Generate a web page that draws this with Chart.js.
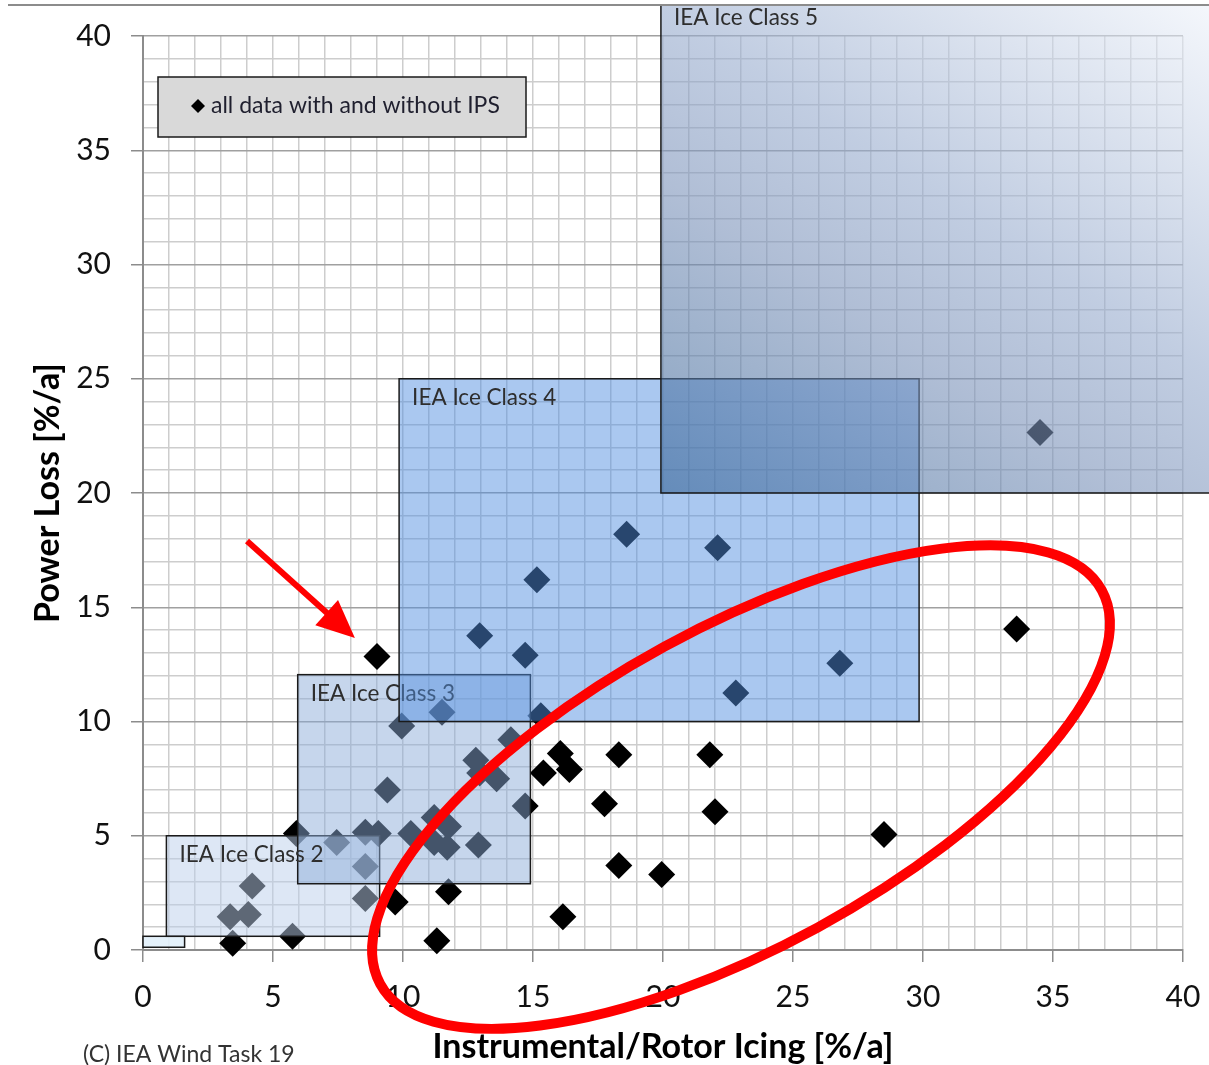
<!DOCTYPE html>
<html>
<head>
<meta charset="utf-8">
<script src="https://cdn.jsdelivr.net/npm/chart.js@4.4.1/dist/chart.umd.min.js"></script>
<style>
  html, body { margin: 0; padding: 0; background: #ffffff; }
  #wrap { width: 1209px; height: 1065px; position: relative; }
</style>
</head>
<body>
<div id="wrap"><canvas id="chart" width="1209" height="1065"></canvas></div>
<script>
// Measured sites: instrumental/rotor icing [%/a] vs. production loss [%/a]
const icingX = [
  3.45, 3.35, 4.05, 4.2, 5.75, 5.9, 7.45, 8.55, 9.05, 8.55,
  8.55, 9.7, 9.0, 9.95, 9.4, 10.3, 11.2, 11.75, 11.2, 11.7,
  12.9, 11.75, 11.3, 11.5, 12.8, 12.95, 13.6, 14.15, 14.7, 15.3,
  14.7, 12.95, 15.15, 15.4, 16.05, 16.4, 16.15, 17.75, 18.3, 18.3,
  19.95, 18.6, 22.1, 21.8, 22.0, 22.8, 26.8, 28.5, 33.6, 34.5
];
const powerLossY = [
  0.3, 1.45, 1.55, 2.8, 0.6, 5.1, 4.7, 5.15, 5.1, 3.65,
  2.25, 2.1, 12.85, 9.8, 7.0, 5.1, 5.8, 5.4, 4.7, 4.5,
  4.6, 2.55, 0.4, 10.4, 8.3, 7.75, 7.5, 9.2, 6.3, 10.25,
  12.9, 13.75, 16.2, 7.75, 8.6, 7.9, 1.45, 6.4, 8.55, 3.7,
  3.3, 18.2, 17.6, 8.55, 6.05, 11.25, 12.55, 5.05, 14.05, 22.65
];

// IEA ice classes (class 1 is the small unlabelled box at the origin)
const classNames = ['', 'IEA Ice Class 2', 'IEA Ice Class 3', 'IEA Ice Class 4', 'IEA Ice Class 5'];
const classX0 = [0, 0.9, 5.95, 9.85, 19.92];
const classX1 = [1.6, 9.1, 14.9, 29.85, 42];
const classY0 = [0.12, 0.6, 2.9, 10, 20];
const classY1 = [0.6, 5, 12.05, 25, 41.35];

// Labelled tick values on both axes
const tickLabels = [0, 5, 10, 15, 20, 25, 30, 35, 40];

const legendText = 'all data with and without IPS';
const copyrightText = '(C) IEA Wind Task 19';

const FONT = 'Lato, "Open Sans", "DejaVu Sans", sans-serif';

const classFills = [
  'rgba(225,240,250,0.9)',
  'rgba(188,208,235,0.5)',
  'rgba(139,171,216,0.49)',
  'rgba(82,143,224,0.49)',
  null
];
// box index after which each class label is written (stacking of the shapes)
const labelAfterBox = [0, 2, 2, 3, 4];

function isLabelled(v) { return tickLabels.indexOf(v) !== -1; }

// keep the plot area exactly where the layout padding puts it
function noLabelPadding(s) {
  s.paddingLeft = 0; s.paddingRight = 0; s.paddingTop = 0; s.paddingBottom = 0;
}

const overlay = {
  id: 'overlay',
  afterDatasetsDraw(chart) {
    const { ctx, scales: { x, y } } = chart;
    const box = i => ({
      l: x.getPixelForValue(classX0[i]),
      r: x.getPixelForValue(classX1[i]),
      t: y.getPixelForValue(classY1[i]),
      b: y.getPixelForValue(classY0[i])
    });
    ctx.save();
    ctx.beginPath();
    ctx.rect(0, 0, chart.width, chart.height);
    ctx.clip();
    for (let i = 0; i < classNames.length; i++) {
      const { l, r, t, b } = box(i);
      let fill = classFills[i];
      if (!fill) {
        // diagonal shading, dark at the lower left, fading to the upper right
        const g = ctx.createLinearGradient(l, b, l + 400, b - 600);
        g.addColorStop(0, 'rgba(55,100,150,0.6)');
        g.addColorStop(0.36, 'rgba(124,147,186,0.6)');
        g.addColorStop(0.56, 'rgba(152,172,206,0.6)');
        g.addColorStop(1, 'rgba(240,244,251,0.6)');
        fill = g;
      }
      ctx.fillStyle = fill;
      ctx.fillRect(l, t, r - l, b - t);
      ctx.strokeStyle = '#1a1a1a';
      ctx.lineWidth = 1.5;
      ctx.strokeRect(l, t, r - l, b - t);
      for (let k = 0; k < classNames.length; k++) {
        if (!classNames[k] || labelAfterBox[k] !== i) continue;
        const lb = box(k);
        ctx.fillStyle = '#2e2e2e';
        ctx.font = '22.5px ' + FONT;
        ctx.textBaseline = 'middle';
        ctx.textAlign = 'left';
        ctx.fillText(classNames[k], lb.l + 13, lb.t + (k === 4 ? 13 : 19));
      }
    }
    ctx.restore();
  },
  afterDraw(chart) {
    const { ctx, scales: { x, y } } = chart;
    ctx.save();
    // outer frame line along the top
    ctx.strokeStyle = '#8c8c8c';
    ctx.lineWidth = 2;
    ctx.beginPath();
    ctx.moveTo(8, 5);
    ctx.lineTo(chart.width, 5);
    ctx.stroke();

    // legend box
    const lx = 158, ly = 77, lw = 368, lh = 60;
    ctx.fillStyle = '#d9d9d9';
    ctx.fillRect(lx, ly, lw, lh);
    ctx.strokeStyle = '#1a1a1a';
    ctx.lineWidth = 1.5;
    ctx.strokeRect(lx, ly, lw, lh);
    ctx.fillStyle = '#000';
    ctx.beginPath();
    ctx.moveTo(198, 99); ctx.lineTo(205, 106); ctx.lineTo(198, 113); ctx.lineTo(191, 106);
    ctx.closePath();
    ctx.fill();
    ctx.fillStyle = '#1f1f2e';
    ctx.font = '23px ' + FONT;
    ctx.textBaseline = 'middle';
    ctx.textAlign = 'left';
    ctx.fillText(legendText, 211, 106);

    // copyright
    ctx.fillStyle = '#333333';
    ctx.font = '23px ' + FONT;
    ctx.fillText(copyrightText, 83, 1055);

    // red arrow towards the highlighted site
    const ax0 = x.getPixelForValue(4.0), ay0 = y.getPixelForValue(17.9);
    const ax1 = x.getPixelForValue(8.15), ay1 = y.getPixelForValue(13.65);
    const dx = ax1 - ax0, dy = ay1 - ay0, len = Math.hypot(dx, dy);
    const ux = dx / len, uy = dy / len;
    const headLen = 38, headHalf = 17;
    const bx = ax1 - ux * headLen, by = ay1 - uy * headLen;
    ctx.strokeStyle = '#ff0000';
    ctx.fillStyle = '#ff0000';
    ctx.lineWidth = 6;
    ctx.beginPath();
    ctx.moveTo(ax0, ay0);
    ctx.lineTo(bx + ux * 2, by + uy * 2);
    ctx.stroke();
    ctx.beginPath();
    ctx.moveTo(ax1, ay1);
    ctx.lineTo(bx - uy * headHalf, by + ux * headHalf);
    ctx.lineTo(bx + uy * headHalf, by - ux * headHalf);
    ctx.closePath();
    ctx.fill();

    // red ellipse around the low-loss sites
    const cx = x.getPixelForValue(23.0), cy = y.getPixelForValue(7.13);
    ctx.lineWidth = 10;
    ctx.beginPath();
    ctx.ellipse(cx, cy, 411, 160, -28.6 * Math.PI / 180, 0, Math.PI * 2);
    ctx.stroke();
    ctx.restore();
  }
};

const points = icingX.map((v, i) => ({ x: v, y: powerLossY[i] }));

new Chart(document.getElementById('chart'), {
  type: 'scatter',
  data: {
    datasets: [{
      label: legendText,
      data: points,
      pointStyle: 'rectRot',
      pointRadius: 13.5,
      pointHoverRadius: 13.5,
      backgroundColor: '#000000',
      borderColor: '#000000',
      borderWidth: 0,
      clip: false
    }]
  },
  options: {
    responsive: false,
    animation: false,
    devicePixelRatio: 1,
    layout: { padding: { left: 0, top: 36, right: 26, bottom: 0 } },
    plugins: { legend: { display: false }, tooltip: { enabled: false } },
    scales: {
      x: {
        type: 'linear', min: 0, max: 40,
        afterFit(s) { s.height = 115; noLabelPadding(s); },
        ticks: {
          stepSize: 1, autoSkip: false, maxRotation: 0, padding: 17,
          callback: v => isLabelled(v) ? String(v) : '',
          font: { family: FONT, size: 30 }, color: '#111111'
        },
        grid: {
          color: '#cdcdcd', lineWidth: 1.5, tickLength: 12,
          tickColor: c => (c.tick && isLabelled(c.tick.value)) ? '#8c8c8c' : 'rgba(0,0,0,0)'
        },
        border: { color: '#8c8c8c', width: 2 },
        title: {
          display: true, text: 'Instrumental/Rotor Icing [%/a]', color: '#000',
          font: { family: FONT, size: 34, weight: 'bold' }, padding: { top: 0, bottom: -2 }
        }
      },
      y: {
        type: 'linear', min: 0, max: 40,
        afterFit(s) { s.width = 143; noLabelPadding(s); },
        ticks: {
          stepSize: 1, autoSkip: false, padding: 20,
          callback: v => isLabelled(v) ? String(v) : '',
          font: { family: FONT, size: 30 }, color: '#111111'
        },
        grid: {
          color: c => (c.tick && isLabelled(c.tick.value)) ? '#a0a0a0' : '#cdcdcd',
          lineWidth: 1.5, tickLength: 12,
          tickColor: c => (c.tick && isLabelled(c.tick.value)) ? '#8c8c8c' : 'rgba(0,0,0,0)'
        },
        border: { color: '#8c8c8c', width: 2 },
        title: {
          display: true, text: 'Power Loss [%/a]', color: '#000',
          font: { family: FONT, size: 34, weight: 'bold' }, padding: { top: 28, bottom: 0 }
        }
      }
    }
  },
  plugins: [overlay]
});
</script>
</body>
</html>
